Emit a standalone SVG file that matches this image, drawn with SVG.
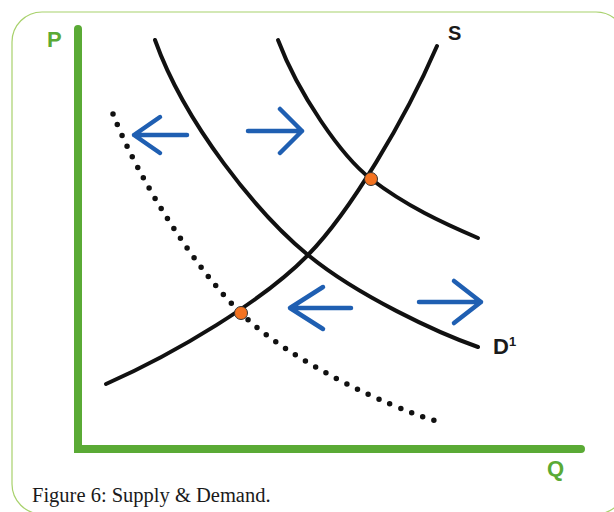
<svg xmlns="http://www.w3.org/2000/svg" width="614" height="512" viewBox="0 0 614 512">
<style>
.curve{fill:none;stroke:#111;stroke-width:4;stroke-linecap:round}
.dotted{fill:none;stroke:#111;stroke-width:5.5;stroke-linecap:round;stroke-dasharray:0 11.8}
.axis{fill:none;stroke:#5aaa35;stroke-width:8;stroke-linecap:round}
.arrow{fill:none;stroke:#1f5fb2;stroke-width:4.5;stroke-linecap:round;stroke-linejoin:round}
.pt{fill:#f47321;stroke:#333;stroke-width:1}
.lbl{font-family:"Liberation Sans",Arial,sans-serif;font-weight:bold;fill:#1a1a1a}
.axl{font-family:"Liberation Sans",Arial,sans-serif;font-weight:bold;fill:#5aaa35}
.cap{font-family:"Liberation Serif","Times New Roman",serif;font-size:20.5px;fill:#1a1a1a}
</style>
<rect x="12" y="12" width="614" height="502" rx="30" fill="#fff" stroke="#a8d16c" stroke-width="1.2"/>
<g id="axes">
<path class="axis" d="M78 29 L78 449 L581 449"/>
<text class="axl" x="47" y="47" font-size="22">P</text>
<text class="axl" x="547" y="476" font-size="22">Q</text>
</g>
<g id="connectors">
<path id="supply" class="curve" d="M106 384 C176 353 263 301 308 255 C350 212 405 120 437 46"/>
<path id="demand1" class="curve" d="M155 40 C185 124 258 214 308 255 C358 296 438 333 478 347"/>
<path id="demand2" class="curve" d="M278 40 C298 93 341 156 371 179 C406 206 443 223 478 238"/>
<path id="demand0" class="dotted" d="M113 114 C138 179 196 270 241 313 C288 360 386 406 436 421"/>
</g>
<g id="arrows">
<path class="arrow" d="M187 135 L134 135 M160 117 L134 135 L160 153"/>
<path class="arrow" d="M248 131 L302 131 M280 109 L302 131 L280 153"/>
<path class="arrow" d="M351 308 L290 308 M323 287 L290 308 L323 329"/>
<path class="arrow" d="M419 302 L481 302 M454 281 L481 302 L454 323"/>
</g>
<g id="points">
<circle class="pt" cx="371" cy="179" r="6.5"/>
<circle class="pt" cx="241" cy="313" r="6.5"/>
</g>
<g id="labels">
<text class="lbl" x="448" y="40" font-size="20">S</text>
<text class="lbl" x="493" y="354" font-size="22">D<tspan font-size="13" dy="-8">1</tspan></text>
</g>
<text class="cap" x="32" y="502">Figure 6: Supply &amp; Demand.</text>
</svg>
